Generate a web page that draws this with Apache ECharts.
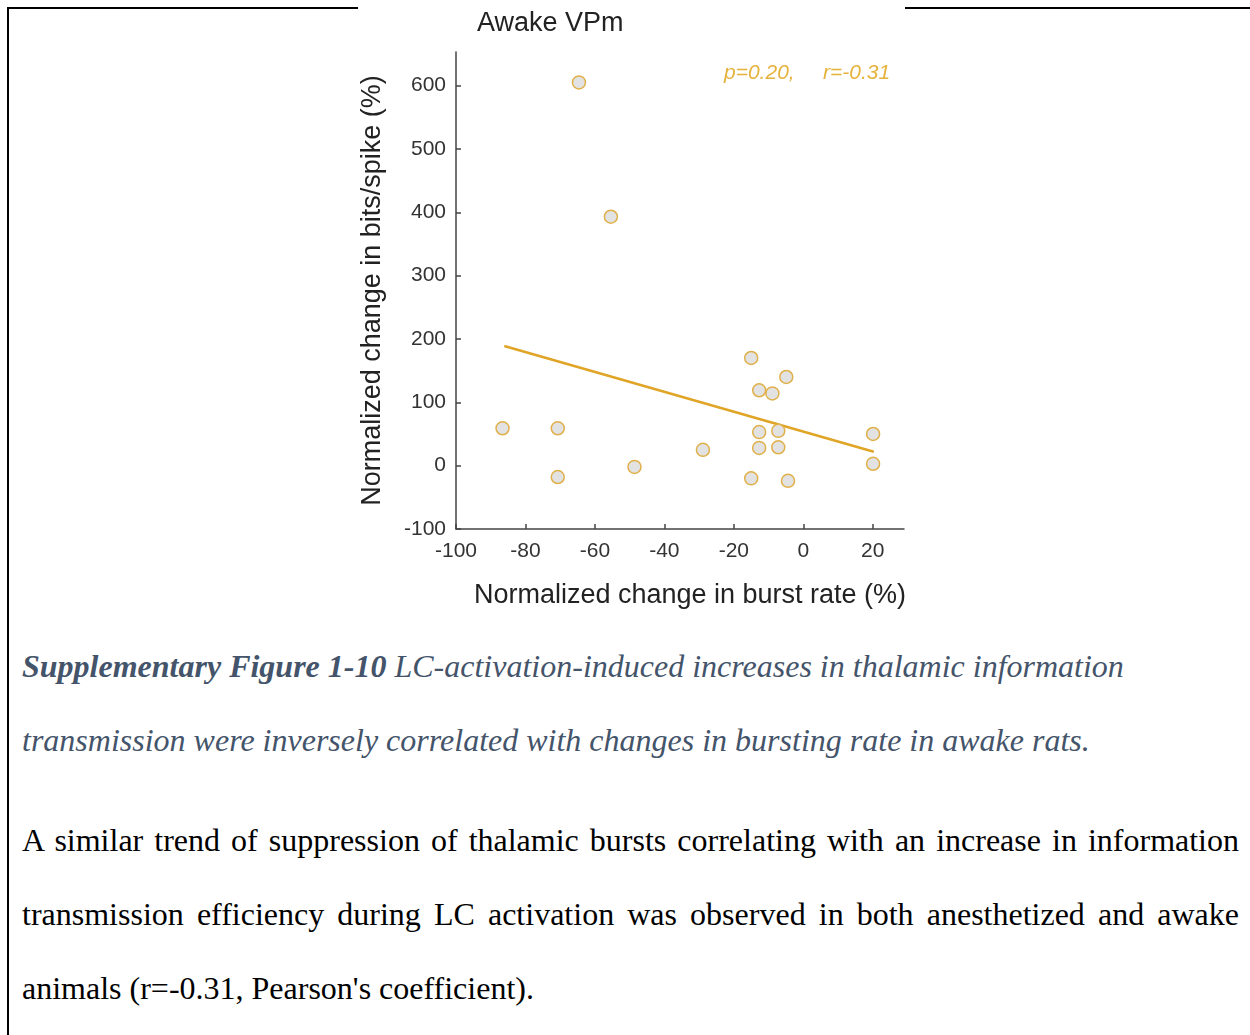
<!DOCTYPE html>
<html>
<head>
<meta charset="utf-8">
<script src="https://cdn.jsdelivr.net/npm/echarts@6/dist/echarts.min.js"></script>
<style>
  html, body { margin: 0; padding: 0; background: #fff; width: 1250px; height: 1035px; overflow: hidden; }
  #frame { position: absolute; left: 7px; top: 7px; width: 1300px; height: 1100px; border-top: 2px solid #000; border-left: 2px solid #000; }
  #chart { position: absolute; left: 358px; top: 0; width: 547px; height: 620px; background: #fff; }
  .txt { position: absolute; left: 22px; width: 1217px; font-family: "Liberation Serif", "Times New Roman", serif; font-size: 32px; line-height: 74px; white-space: nowrap; }
  #caption { top: 629px; color: #44546A; font-style: italic; }
  #body { top: 803px; color: #000; }
  .just { text-align: justify; text-align-last: justify; }
</style>
</head>
<body>
<div id="frame"></div>
<div id="chart"></div>
<div id="caption" class="txt">
  <div><b>Supplementary Figure 1-10</b> LC-activation-induced increases in thalamic information</div>
  <div>transmission were inversely correlated with changes in bursting rate in awake rats.</div>
</div>
<div id="body" class="txt">
  <div class="just">A similar trend of suppression of thalamic bursts correlating with an increase in information</div>
  <div class="just">transmission efficiency during LC activation was observed in both anesthetized and awake</div>
  <div>animals (r=-0.31, Pearson's coefficient).</div>
</div>
<script>
const chartTitle = "Awake VPm";
const xAxisName = "Normalized change in burst rate (%)";
const yAxisName = "Normalized change in bits/spike (%)";
const xTicks = [-100, -80, -60, -40, -20, 0, 20];
const yTicks = [-100, 0, 100, 200, 300, 400, 500, 600];
const burstChange = [-86.6, -70.7, -70.7, -48.6, -28.9, -15.0, -15.0, -12.7, -12.7, -12.7, -8.9, -7.2, -7.2, -4.9, -4.4, 20.1, 20.1, -64.6, -55.4];
const bitsChange = [59, 59, -18, -2, 25, 170, -20, 119, 53, 28, 114, 55, 29, 140, -24, 50, 3, 605, 393];
const fitX = [-86.1, 20.3];
const fitY = [189, 22];
const pText = "p=0.20,";
const rText = "r=-0.31";

const scatterData = burstChange.map((x, i) => [x, bitsChange[i]]);
const fitData = fitX.map((x, i) => [x, fitY[i]]);

const chart = echarts.init(document.getElementById('chart'));
const axisCol = '#444';
const sans = 'Liberation Sans, Arial, sans-serif';
chart.setOption({
  animation: false,
  backgroundColor: '#fff',
  title: {
    text: chartTitle, left: 114, top: 5,
    textStyle: { fontFamily: sans, fontSize: 27, fontWeight: 'normal', color: '#222' }
  },
  grid: { left: 98, top: 52, width: 448, height: 477, containLabel: false, outerBoundsMode: 'none' },
  xAxis: {
    type: 'value', min: -100, max: 29,
    name: xAxisName, nameLocation: 'middle', nameGap: 53,
    nameTextStyle: { fontFamily: sans, fontSize: 27, color: '#222', padding: [0, 0, 0, 20] },
    axisLine: { show: true, onZero: false, lineStyle: { color: axisCol, width: 1.5 } },
    axisTick: { show: true, inside: true, length: 5, customValues: xTicks, lineStyle: { color: axisCol, width: 1.5 } },
    axisLabel: { customValues: xTicks, margin: 12, fontFamily: sans, fontSize: 21, color: '#333' },
    splitLine: { show: false }
  },
  yAxis: {
    type: 'value', min: -100, max: 653,
    name: yAxisName, nameLocation: 'middle', nameGap: 70, nameRotate: 90,
    nameTextStyle: { fontFamily: sans, fontSize: 27, color: '#222' },
    axisLine: { show: true, onZero: false, lineStyle: { color: axisCol, width: 1.5 } },
    axisTick: { show: true, inside: true, length: 5, customValues: yTicks, lineStyle: { color: axisCol, width: 1.5 } },
    axisLabel: { customValues: yTicks, margin: 10, fontFamily: sans, fontSize: 21, color: '#333' },
    splitLine: { show: false }
  },
  graphic: [
    { type: 'text', left: 366, top: 63, style: { text: pText, fontFamily: sans, fontSize: 21, fontStyle: 'italic', fill: '#E5B23C' } },
    { type: 'text', left: 465, top: 63, style: { text: rText, fontFamily: sans, fontSize: 21, fontStyle: 'italic', fill: '#E5B23C' } }
  ],
  series: [
    {
      type: 'line', data: fitData, symbol: 'none', z: 2,
      lineStyle: { color: '#E0A526', width: 2.5 }
    },
    {
      type: 'scatter', data: scatterData, symbol: 'circle', symbolSize: 13, z: 3,
      itemStyle: { color: '#E2E2E2', borderColor: '#E0B04A', borderWidth: 1.5, opacity: 1 }
    }
  ]
});
</script>
</body>
</html>
